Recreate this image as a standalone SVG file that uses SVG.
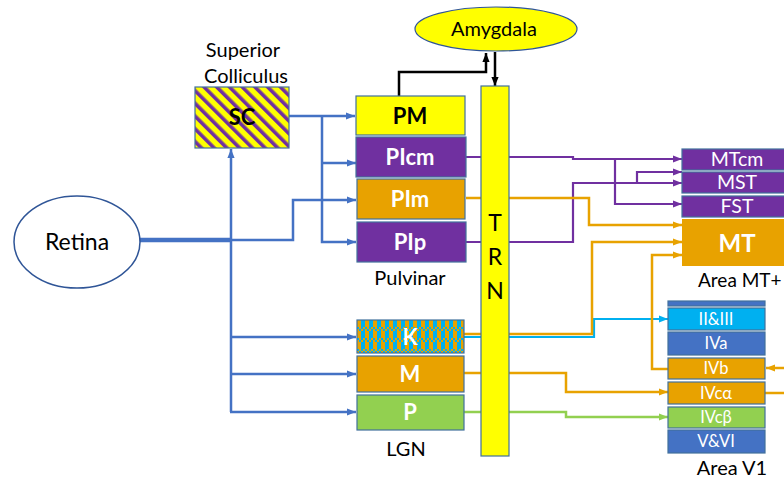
<svg xmlns="http://www.w3.org/2000/svg" width="784" height="481" viewBox="0 0 784 481">
<style>
text{font-family:Lato,"Liberation Sans",sans-serif;}
.lbl{font-size:20px;fill:#000;text-anchor:middle;}
.big{font-size:23px;fill:#000;text-anchor:middle;}
.bw{font-size:22px;font-weight:bold;fill:#fff;text-anchor:middle;}
.bb{font-size:22px;font-weight:bold;fill:#000;text-anchor:middle;}
.bmt{font-size:24px;font-weight:bold;fill:#fff;text-anchor:middle;}
.mt{font-size:19.5px;fill:#fff;text-anchor:middle;}
.v1{font-size:16.5px;fill:#fff;text-anchor:middle;}
.box{stroke:#41719C;stroke-width:1.2;}
.c{fill:none;stroke-linejoin:miter;}
.blue{stroke:#4472C4;stroke-width:2.5;}
.blk{stroke:#000;stroke-width:2.5;}
.pur{stroke:#7030A0;stroke-width:2.2;}
.org{stroke:#E8A200;stroke-width:2.5;}
.cya{stroke:#00B0F0;stroke-width:2.2;}
.grn{stroke:#92D050;stroke-width:2.5;}
</style>
<defs>
<marker id="aBlue" viewBox="0 0 10 10" refX="10" refY="5" markerWidth="9" markerHeight="9" markerUnits="userSpaceOnUse" orient="auto"><path d="M0,1 L10,5 L0,9 z" fill="#4472C4"/></marker>
<marker id="aBlk" viewBox="0 0 10 10" refX="10" refY="5" markerWidth="9" markerHeight="9" markerUnits="userSpaceOnUse" orient="auto"><path d="M0,1 L10,5 L0,9 z" fill="#000"/></marker>
<marker id="aPur" viewBox="0 0 10 10" refX="10" refY="5" markerWidth="9" markerHeight="9" markerUnits="userSpaceOnUse" orient="auto"><path d="M0,1 L10,5 L0,9 z" fill="#7030A0"/></marker>
<marker id="aOrg" viewBox="0 0 10 10" refX="10" refY="5" markerWidth="9" markerHeight="9" markerUnits="userSpaceOnUse" orient="auto"><path d="M0,1 L10,5 L0,9 z" fill="#E8A200"/></marker>
<marker id="aCya" viewBox="0 0 10 10" refX="10" refY="5" markerWidth="9" markerHeight="9" markerUnits="userSpaceOnUse" orient="auto"><path d="M0,1 L10,5 L0,9 z" fill="#00B0F0"/></marker>
<marker id="aGrn" viewBox="0 0 10 10" refX="10" refY="5" markerWidth="9" markerHeight="9" markerUnits="userSpaceOnUse" orient="auto"><path d="M0,1 L10,5 L0,9 z" fill="#92D050"/></marker>
<pattern id="hatch" patternUnits="userSpaceOnUse" width="9" height="9" patternTransform="rotate(-45)">
<rect width="9" height="9" fill="#FFFF00"/><rect width="3.6" height="9" fill="#7030A0"/>
</pattern>
<pattern id="kpat" patternUnits="userSpaceOnUse" width="8" height="11" x="357" y="320">
<rect width="8" height="11" fill="#E8A200"/>
<rect x="4" y="0" width="4" height="7" fill="#00B0F0"/>
<rect x="0" y="7" width="2" height="2" fill="#00B0F0"/><rect x="4" y="7" width="2" height="2" fill="#00B0F0"/>
<rect x="2" y="9" width="2" height="2" fill="#00B0F0"/><rect x="6" y="9" width="2" height="2" fill="#00B0F0"/>
</pattern>
</defs>

<g id="connectors">
<path class="c blue" d="M139,240 H231" style="stroke-width:4.5"/>
<path class="c blue" d="M231,240 H293 V200 H356" marker-end="url(#aBlue)"/>
<path class="c blue" d="M231,412 V149" marker-end="url(#aBlue)"/>
<path class="c blue" d="M230,337 H356" marker-end="url(#aBlue)"/>
<path class="c blue" d="M230,374 H356" marker-end="url(#aBlue)"/>
<path class="c blue" d="M230,412 H356" marker-end="url(#aBlue)"/>
<path class="c blue" d="M289,116 H355" marker-end="url(#aBlue)"/>
<path class="c blue" d="M322,116 V242 H356" marker-end="url(#aBlue)"/>
<path class="c blue" d="M322,163 H356" marker-end="url(#aBlue)"/>
<path class="c blk" d="M399,96 V72 H486 V53" marker-end="url(#aBlk)"/>
<path class="c blk" d="M495,52 V86" marker-end="url(#aBlk)"/>
<path class="c pur" d="M466,157 H573 V159 H682" marker-end="url(#aPur)"/>
<path class="c pur" d="M615,159 V204 H682" marker-end="url(#aPur)"/>
<path class="c pur" d="M466,242 H573 V183 H682" marker-end="url(#aPur)"/>
<path class="c pur" d="M637,183 V172 H682" marker-end="url(#aPur)"/>
<path class="c cya" d="M464,337 H594 V319 H668" marker-end="url(#aCya)"/>
<path class="c org" d="M466,198 H589 V225 H682" marker-end="url(#aOrg)"/>
<path class="c org" d="M464,334 H592 V242 H682" marker-end="url(#aOrg)"/>
<path class="c org" d="M464,373 H566 V392 H668" marker-end="url(#aOrg)"/>
<path class="c org" d="M668,369 H652 V255 H682" marker-end="url(#aOrg)"/>
<path class="c org" d="M784,368 H766" marker-end="url(#aOrg)"/>
<path class="c org" d="M765,393 H784"/>
<path class="c grn" d="M464,412 H566 V417 H668" marker-end="url(#aGrn)"/>
</g>

<g id="retina">
<ellipse cx="77" cy="242" rx="63" ry="46" fill="#fff" stroke="#2F5597" stroke-width="1.5"/>
<text x="77" y="250" class="big">Retina</text>
</g>

<g id="amygdala">
<ellipse cx="496" cy="29" rx="81" ry="22" fill="#FFFF00" stroke="#2F5597" stroke-width="1.2"/>
<text x="494" y="36" class="lbl">Amygdala</text>
</g>

<g id="sc">
<text x="243" y="57" class="lbl">Superior</text>
<text x="246" y="83" class="lbl">Colliculus</text>
<rect x="195" y="87" width="94" height="61" fill="url(#hatch)" class="box"/>
<text x="242" y="125" class="bb">SC</text>
</g>

<g id="pulvinar">
<rect id="pm" x="356" y="96" width="109" height="39" fill="#FFFF00" class="box"/>
<text x="410" y="124" class="bb">PM</text>
<rect id="picm" x="356" y="137" width="110" height="40" fill="#7030A0" class="box"/>
<text x="410" y="165" class="bw">PIcm</text>
<rect id="pim" x="357" y="179" width="108" height="40" fill="#E8A200" class="box"/>
<text x="410" y="207" class="bw">PIm</text>
<rect id="pip" x="357" y="222" width="109" height="40" fill="#7030A0" class="box"/>
<text x="410" y="250" class="bw">PIp</text>
<text x="410" y="285" class="lbl">Pulvinar</text>
</g>

<g id="lgn">
<rect id="k" x="357" y="320" width="107" height="33" fill="url(#kpat)" class="box"/>
<text x="410" y="345" class="bw">K</text>
<rect id="m" x="357" y="356" width="107" height="36" fill="#E8A200" class="box"/>
<text x="410" y="382" class="bw">M</text>
<rect id="p" x="357" y="395" width="107" height="35" fill="#92D050" class="box"/>
<text x="410" y="420" class="bw">P</text>
<text x="406" y="456" class="lbl">LGN</text>
</g>

<g id="trn">
<rect x="481" y="86" width="28" height="370" fill="#FFFF00" stroke="#41719C" stroke-width="1.2"/>
<text x="495" y="231" class="big">T</text>
<text x="495" y="265" class="big">R</text>
<text x="495" y="299" class="big">N</text>
</g>

<g id="mtplus">
<rect id="mtcm" x="682" y="149" width="112" height="21" fill="#7030A0" class="box"/>
<text x="737" y="166" class="mt">MTcm</text>
<rect id="mst" x="682" y="172" width="112" height="21" fill="#7030A0" class="box"/>
<text x="737" y="189" class="mt">MST</text>
<rect id="fst" x="682" y="196" width="112" height="21" fill="#7030A0" class="box"/>
<text x="737" y="213" class="mt">FST</text>
<rect id="mtbox" x="682" y="219" width="112" height="47" fill="#E8A200"/>
<text x="737" y="252" class="bmt">MT</text>
<text x="698" y="287" class="lbl" style="text-anchor:start;font-size:19px">Area MT+</text>
</g>

<g id="v1">
<rect x="668" y="301" width="97" height="5" fill="#4472C4" class="box"/>
<rect id="l23" x="668" y="308" width="97" height="22" fill="#00B0F0" class="box"/>
<text x="716" y="325" class="v1">II&amp;III</text>
<rect id="l4a" x="668" y="332" width="97" height="23" fill="#4472C4" class="box"/>
<text x="716" y="349" class="v1">IVa</text>
<rect id="l4b" x="668" y="358" width="97" height="21" fill="#E8A200" class="box"/>
<text x="716" y="374" class="v1">IVb</text>
<rect id="l4ca" x="668" y="382" width="97" height="22" fill="#E8A200" class="box"/>
<text x="716" y="399" class="v1">IVcα</text>
<rect id="l4cb" x="668" y="407" width="97" height="21" fill="#92D050" class="box"/>
<text x="716" y="423" class="v1">IVcβ</text>
<rect id="l56" x="668" y="430" width="97" height="23" fill="#4472C4" class="box"/>
<text x="716" y="447" class="v1">V&amp;VI</text>
<text x="732" y="475" class="lbl">Area V1</text>
</g>
</svg>
